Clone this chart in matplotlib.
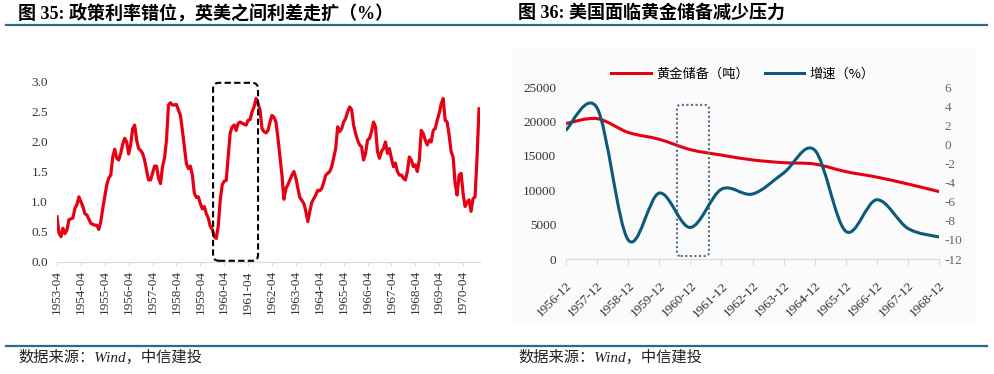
import numpy as np
import matplotlib
matplotlib.use('Agg')
from matplotlib import pyplot as plt
from matplotlib.path import Path
from matplotlib.patches import PathPatch, FancyBboxPatch, Rectangle
from matplotlib.lines import Line2D

plt.rcParams['font.family'] = ['Liberation Serif', 'Noto Sans CJK SC']
plt.rcParams['axes.unicode_minus'] = False

# ---- left chart: UK-US policy rate spread (%), month offsets from 1953-04
spread_month = [0, 1, 2, 3, 4, 5, 6, 8, 9, 10, 11, 13, 14, 15, 16, 17, 19, 20, 21, 22,
                23, 24, 25, 26, 27, 28, 29, 30, 31, 32, 33, 34, 35, 36, 37, 38, 39, 40,
                41, 42, 43, 44, 45, 46, 47, 48, 49, 50, 51, 52, 53, 54, 55, 56, 57, 58,
                60, 61, 62, 63, 64, 65, 66, 67, 68, 69, 70, 71, 72, 73, 74, 75, 76, 77,
                78, 79, 80, 81, 82, 83, 84, 85, 86, 87, 88, 89, 90, 91, 92, 93, 95, 96,
                97, 98, 99, 100, 101, 102, 103, 104, 105, 106, 107, 108, 109, 110, 111,
                112, 113, 114, 115, 116, 117, 118, 119, 120, 121, 122, 124, 125, 126,
                127, 128, 130, 131, 132, 133, 134, 135, 136, 137, 138, 140, 141, 142,
                143, 144, 145, 146, 147, 148, 149, 150, 151, 152, 153, 154, 155, 156,
                157, 158, 159, 160, 161, 162, 163, 164, 165, 166, 167, 168, 169, 170,
                171, 172, 173, 174, 175, 176, 177, 178, 179, 180, 181, 182, 183, 184,
                185, 186, 187, 188, 189, 190, 191, 192, 193, 194, 195, 196, 197, 198,
                199, 200, 201, 202, 203, 204, 205, 206, 207, 208, 209, 210, 211, 212]
spread = [0.75, 0.48, 0.42, 0.56, 0.47, 0.53, 0.70, 0.73, 0.89, 0.95, 1.08, 0.92, 0.80,
          0.78, 0.71, 0.64, 0.61, 0.61, 0.54, 0.67, 0.89, 1.08, 1.28, 1.39, 1.44, 1.74,
          1.87, 1.72, 1.69, 1.80, 1.95, 2.05, 1.99, 1.79, 1.94, 2.21, 2.27, 2.02, 1.88,
          1.85, 1.80, 1.69, 1.52, 1.36, 1.36, 1.47, 1.59, 1.59, 1.39, 1.30, 1.58, 1.72,
          2.02, 2.60, 2.64, 2.60, 2.61, 2.52, 2.43, 2.18, 1.91, 1.63, 1.55, 1.59, 1.44,
          1.14, 1.07, 1.08, 0.97, 0.88, 0.92, 0.80, 0.73, 0.59, 0.54, 0.42, 0.39, 0.59,
          1.03, 1.28, 1.34, 1.35, 1.74, 2.14, 2.24, 2.27, 2.18, 2.30, 2.32, 2.30, 2.27,
          2.35, 2.36, 2.49, 2.57, 2.71, 2.62, 2.52, 2.21, 2.16, 2.14, 2.18, 2.32, 2.43,
          2.40, 2.32, 2.05, 1.74, 1.44, 1.04, 1.22, 1.28, 1.36, 1.44, 1.50, 1.39, 1.22,
          1.07, 0.97, 0.84, 0.67, 0.84, 0.99, 1.11, 1.19, 1.18, 1.22, 1.32, 1.44, 1.47,
          1.50, 1.58, 1.88, 2.24, 2.16, 2.21, 2.32, 2.38, 2.49, 2.57, 2.53, 2.27, 2.13,
          2.02, 1.94, 1.91, 1.69, 1.80, 2.02, 2.05, 2.16, 2.32, 2.24, 1.83, 1.72, 1.83,
          1.88, 1.99, 1.80, 1.88, 1.72, 1.58, 1.64, 1.50, 1.44, 1.44, 1.39, 1.36, 1.50,
          1.74, 1.69, 1.58, 1.61, 1.50, 1.69, 2.18, 2.13, 2.02, 1.94, 2.02, 1.99, 2.18,
          2.21, 2.35, 2.46, 2.62, 2.71, 2.35, 2.32, 2.10, 1.83, 1.74, 1.30, 1.11, 1.44,
          1.47, 1.14, 0.92, 0.99, 1.03, 0.84, 1.05, 1.08, 1.72, 2.54]
spread_ticks = [f'{y}-04' for y in range(1953, 1971)]

# ---- right chart: US gold reserves (tonnes) and growth (%)
gold_years = ['1956-12', '1957-12', '1958-12', '1959-12', '1960-12', '1961-12', '1962-12',
              '1963-12', '1964-12', '1965-12', '1966-12', '1967-12', '1968-12']
gold = [19700, 20400, 18400, 17400, 15900, 15100, 14400, 14000, 13800, 12700, 11900,
        10900, 9800]
growth = [1.5, 3.8, -10.0, -5.1, -8.7, -4.7, -5.2, -3.0, -0.6, -9.1, -5.8, -8.8, -9.7]

W, H = 994, 374
RED = '#e60012'
TEAL = '#0b5a7a'
RULE = '#2a6b8c'
CJK = ['Liberation Serif', 'Noto Sans CJK SC']


def rect(x0, y0, x1, y1):
    return [x0 / W, 1 - y1 / H, (x1 - x0) / W, (y1 - y0) / H]


def smooth_path(x, y):
    # excel-like smoothed line as cubic bezier segments
    x = np.asarray(x, float)
    y = np.asarray(y, float)
    n = len(x)
    verts = [(x[0], y[0])]
    codes = [Path.MOVETO]
    for i in range(n - 1):
        i0 = max(i - 1, 0)
        i3 = min(i + 2, n - 1)
        c1 = (x[i] + (x[i + 1] - x[i0]) / 6, y[i] + (y[i + 1] - y[i0]) / 6)
        c2 = (x[i + 1] - (x[i3] - x[i]) / 6, y[i + 1] - (y[i3] - y[i]) / 6)
        verts += [c1, c2, (x[i + 1], y[i + 1])]
        codes += [Path.CURVE4] * 3
    return Path(verts, codes)


fig = plt.figure(figsize=(W / 100, H / 100), dpi=100)

# faint grey panel behind right chart
fig.patches.append(Rectangle((513 / W, 1 - 322 / H), (977 - 513) / W, (322 - 47) / H,
                             transform=fig.transFigure, facecolor='#fbfbfb',
                             edgecolor='none', zorder=-5))

# titles and rules
fig.text(18 / W, 1 - 13 / H, '图 35: 政策利率错位，英美之间利差走扩（%）', fontsize=13,
         fontweight='bold', va='center', ha='left', family=CJK)
fig.text(518 / W, 1 - 13 / H, '图 36: 美国面临黄金储备减少压力', fontsize=13,
         fontweight='bold', va='center', ha='left', family=CJK)
for yy in (24.5, 346):
    fig.add_artist(Line2D([6 / W, 987 / W], [1 - yy / H] * 2, color=RULE, lw=1.6))
for xx in (18, 518):
    fig.text(xx / W, 1 - 357 / H, '数据来源：Wind，中信建投', fontsize=11, style='italic',
             va='center', ha='left', color='#222222', family=CJK)

# ---- left chart
ax = fig.add_axes(rect(57, 81, 480, 262))
ax.plot(spread_month, spread, color=RED, lw=2.3, solid_joinstyle='round')
ax.set_xlim(0, 212.5)
ax.set_ylim(0, 3)
ax.set_yticks(np.arange(0, 3.01, 0.5))
ax.set_yticklabels([f'{v:.1f}' for v in np.arange(0, 3.01, 0.5)])
ax.set_xticks(range(0, 12 * len(spread_ticks), 12))
ax.set_xticklabels(spread_ticks, rotation=90)
for s in ('top', 'right', 'left'):
    ax.spines[s].set_visible(False)
ax.spines['bottom'].set_color('#d9d9d9')
ax.tick_params(axis='y', length=0, pad=6.5, labelsize=9.5, labelcolor='#333333')
ax.tick_params(axis='x', length=3, color='#d9d9d9', pad=3, labelsize=9.5,
               labelcolor='#333333')
ax.patch.set_visible(False)
box = FancyBboxPatch((78.4, 0.02), 101.0 - 78.4, 2.97 - 0.02,
                     boxstyle='round,pad=0,rounding_size=3',
                     mutation_aspect=1.99 / 60.3, fill=False, edgecolor='black',
                     lw=1.5, linestyle=(0, (3, 1.6)), clip_on=False, zorder=3)
ax.add_patch(box)

# ---- right chart
xs = np.arange(len(gold_years))
axr = fig.add_axes(rect(566, 87, 939, 259))
axr.patch.set_visible(False)
axr.add_patch(PathPatch(smooth_path(xs, gold), fill=False, edgecolor=RED, lw=2.2,
                        capstyle='round', joinstyle='round'))
axr.set_xlim(0, len(gold_years) - 1)
axr.set_ylim(0, 25000)
axr.set_yticks(range(0, 25001, 5000))
axr.set_xticks(xs)
axr.set_xticklabels(gold_years, rotation=45, ha='right', rotation_mode='anchor')
for s in ('top', 'right', 'left'):
    axr.spines[s].set_visible(False)
axr.spines['bottom'].set_color('#d9d9d9')
axr.tick_params(axis='y', length=0, pad=7, labelsize=9.5, labelcolor='#333333')
axr.tick_params(axis='x', length=4, color='#d9d9d9', pad=11, labelsize=9.5,
                labelcolor='#333333')

ax2 = axr.twinx()
ax2.add_patch(PathPatch(smooth_path(xs, growth), fill=False, edgecolor=TEAL, lw=2.2,
                        capstyle='round', joinstyle='round'))
ax2.set_ylim(-12, 6)
ax2.set_yticks(range(-12, 7, 2))
for s in ('top', 'right', 'left', 'bottom'):
    ax2.spines[s].set_visible(False)
ax2.tick_params(axis='y', length=0, pad=4, labelsize=9.5, labelcolor='#666666')

# dotted highlight around 1960-12; aspect = (px per x unit) / (px per y unit)
dbox = FancyBboxPatch((3.57, 430), 4.6 - 3.57, 22400 - 430,
                      boxstyle='round,pad=0,rounding_size=0.12',
                      mutation_aspect=31.08 / 0.00688,
                      fill=False, edgecolor='#4d6f8f', lw=1.5, linestyle=(0, (1, 1.2)),
                      clip_on=False, zorder=3)
axr.add_patch(dbox)

handles = [Line2D([], [], color=RED, lw=2.2), Line2D([], [], color=TEAL, lw=2.2)]
fig.legend(handles, ['黄金储备（吨）', '增速（%）'], ncol=2, frameon=False, loc='center',
           bbox_to_anchor=(743 / W, 1 - 74 / H), handlelength=3.0, columnspacing=1.2,
           handletextpad=0.4, prop=dict(family=['Noto Sans CJK SC'], size=9.5))

fig.savefig('out.png', dpi=100)
